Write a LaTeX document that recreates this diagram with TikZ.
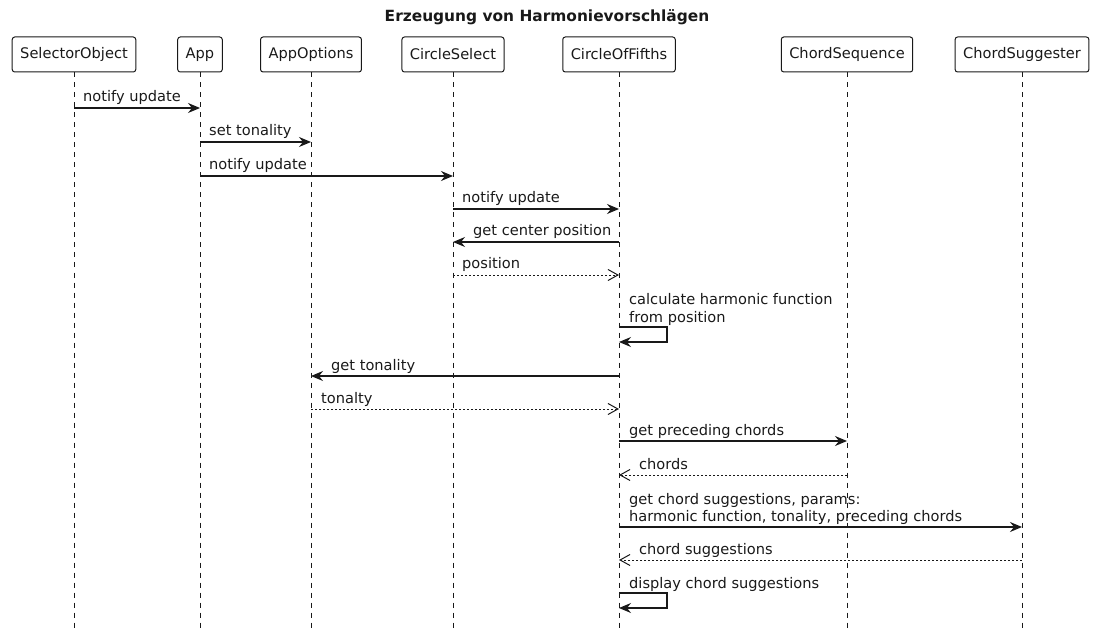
\documentclass[tikz,border=0pt]{standalone}
\usepackage{fontspec}
\setmainfont{DejaVu Sans}
\usetikzlibrary{arrows.meta}
\begin{document}
\begin{tikzpicture}[x=1pt,y=-1pt,
  every node/.style={font=\fontsize{14.6}{18}\selectfont, text=black!90},
  actor/.style={draw=black!90, fill=white, rounded corners=2.5pt, minimum height=35pt, inner xsep=8pt, line width=1pt},
  life/.style={draw=black!90, line width=0.9pt, dash pattern=on 5pt off 5pt},
  call/.style={draw=black!90, line width=1.1pt, -{Stealth[length=12pt,width=10pt,inset=4pt]}},
  ret/.style={draw=black!90, line width=0.9pt, dash pattern=on 2pt off 2pt, -{Straight Barb[length=10pt,width=11pt,line width=1pt]}},
  lbl/.style={anchor=base west, inner sep=0pt}]
\useasboundingbox (0,0) rectangle (1094,628);
\node[font=\fontsize{15.4}{18}\selectfont\bfseries] (title) at (547,17) {Erzeugung von Harmonievorschlägen};
% actors
\node[actor] (so) at (74,54.5) {SelectorObject};
\node[actor] (app) at (200,54.5) {App};
\node[actor] (ao) at (311,54.5) {AppOptions};
\node[actor] (cs) at (453,54.5) {CircleSelect};
\node[actor] (cof) at (619,54.5) {CircleOfFifths};
\node[actor] (seq) at (847,54.5) {ChordSequence};
\node[actor] (sug) at (1022,54.5) {ChordSuggester};
% lifelines
\foreach \n in {so,app,ao,cs,cof,seq,sug}{
  \draw[life] (\n.south) -- (\n |- 0,628);
}
% messages
\draw[call] (so |- 0,108) -- (app |- 0,108);
\node[lbl] (m1) at (83,102) {notify update};
\draw[call] (app |- 0,142) -- (ao |- 0,142);
\node[lbl] (m2) at (209,136) {set tonality};
\draw[call] (app |- 0,176) -- (cs |- 0,176);
\node[lbl] (m3) at (209,170) {notify update};
\draw[call] (cs |- 0,209) -- (cof |- 0,209);
\node[lbl] (m4) at (462,203) {notify update};
\draw[call] (cof |- 0,242) -- (cs |- 0,242);
\node[lbl] (m5) at (473,236) {get center position};
\draw[ret] (cs |- 0,275) -- (cof |- 0,275);
\node[lbl] (m6) at (462,269) {position};
\node[lbl] (m7a) at (629,304) {calculate harmonic function};
\node[lbl] (m7b) at (629,322) {from position};
\draw[call] (cof |- 0,327) -- ++(48,0) -- ++(0,15) -- (cof |- 0,342);
\draw[call] (cof |- 0,376) -- (ao |- 0,376);
\node[lbl] (m8) at (331,370) {get tonality};
\draw[ret] (ao |- 0,409) -- (cof |- 0,409);
\node[lbl] (m9) at (321,403) {tonalty};
\draw[call] (cof |- 0,441) -- (seq |- 0,441);
\node[lbl] (m10) at (629,435) {get preceding chords};
\draw[ret] (seq |- 0,475) -- (cof |- 0,475);
\node[lbl] (m11) at (639,469) {chords};
\node[lbl] (m12a) at (629,504) {get chord suggestions, params:};
\node[lbl] (m12b) at (629,521) {harmonic function, tonality, preceding chords};
\draw[call] (cof |- 0,527) -- (sug |- 0,527);
\draw[ret] (sug |- 0,560) -- (cof |- 0,560);
\node[lbl] (m13) at (639,554) {chord suggestions};
\node[lbl] (m14) at (629,588) {display chord suggestions};
\draw[call] (cof |- 0,593) -- ++(48,0) -- ++(0,15) -- (cof |- 0,608);
\end{tikzpicture}
\end{document}
